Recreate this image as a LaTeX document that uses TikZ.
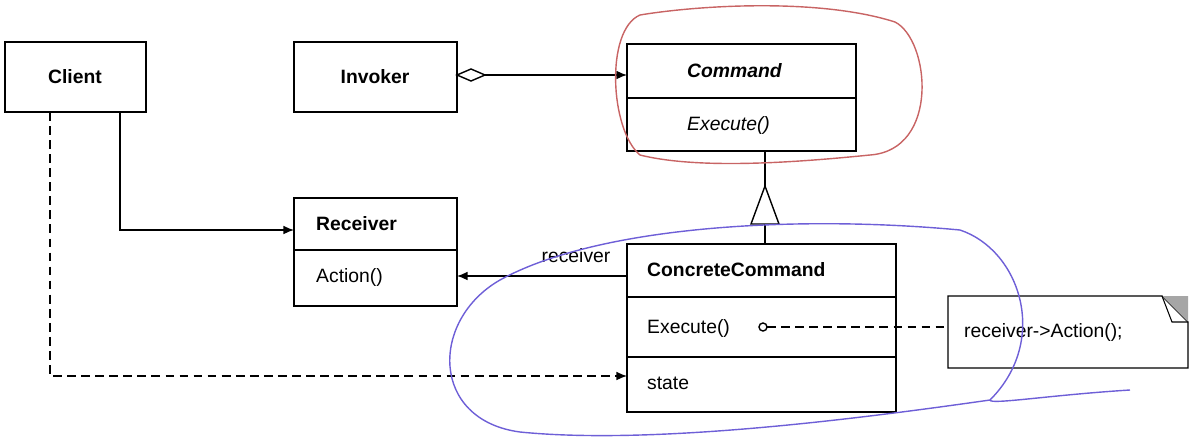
\documentclass[tikz,border=0pt]{standalone}
\usepackage{fontspec}
\setmainfont{Liberation Sans}
\usetikzlibrary{arrows.meta}
\definecolor{markred}{RGB}{200,100,100}
\definecolor{markblue}{RGB}{110,95,215}
\begin{document}
\begin{tikzpicture}[x=0.02cm,y=-0.02cm,font=\fontsize{11}{13}\selectfont,
  tip/.style={-{Latex[length=6pt,width=5pt]},line width=0.8pt},
  dashline/.style={dash pattern=on 5pt off 3pt,line width=0.8pt}]
\useasboundingbox (0,0) rectangle (1191,440);
% classes
\draw[line width=0.8pt] (5,42) rectangle (146,112);
\node (client) at (75,77) {\textbf{Client}};
\draw[line width=0.8pt] (294,42) rectangle (457,112);
\node (invoker) at (375,77) {\textbf{Invoker}};
\draw[line width=0.8pt] (627,44) rectangle (856,151) (627,98) -- (856,98);
\node[anchor=west] (command) at (681,71) {\textbf{\itshape Command}};
\node[anchor=west] at (681,125) {\itshape Execute()};
\draw[line width=0.8pt] (294,198) rectangle (457,306) (294,250) -- (457,250);
\node[anchor=west] (receiver) at (310,224) {\textbf{Receiver}};
\node[anchor=west] at (310,277) {Action()};
\draw[line width=0.8pt] (627,244) rectangle (896,412) (627,297) -- (896,297) (627,357) -- (896,357);
\node[anchor=west] (concrete) at (641,270) {\textbf{ConcreteCommand}};
\node[anchor=west] (execute) at (641,328) {Execute()};
\node[anchor=west] (state) at (641,383) {state};
% note
\draw[line width=0.8pt] (948,296) -- (1162,296) -- (1188,322) -- (1188,368) -- (948,368) -- cycle;
\fill[gray!70] (1162,296) -- (1188,296) -- (1188,322) -- cycle;
\draw[line width=0.6pt] (1162,296) -- (1172,322) -- (1188,322);
\node[anchor=west] (note) at (958,332) {receiver->Action();};
% connectors
\draw[tip] (457,75) -- (627,75);
\draw[fill=white,line width=0.8pt] (457,75) -- (471,69) -- (485,75) -- (471,81) -- cycle;
\draw[tip] (120,112) |- (294,230);
\draw[dashline,-{Latex[length=6pt,width=5pt]}] (50,112) |- (627,376);
\draw[tip] (627,276) -- (457,276);
\node at (576,256) {receiver};
\draw[line width=0.8pt] (765,151) -- (765,186) (765,224) -- (765,244);
\draw[line width=0.8pt,fill=white] (765,186) -- (779,224) -- (751,224) -- cycle;
\draw[line width=0.8pt] (763,327) circle (4);
\draw[dashline] (767,327) -- (948,327);
% hand marks
\draw[markred,line width=0.8pt] (870,155) .. controls (940,150) and (930,40) .. (895,22)
  .. controls (820,-2) and (700,5) .. (640,15) .. controls (605,30) and (610,130) .. (640,155)
  .. controls (700,170) and (800,162) .. (870,155);
\draw[markblue,line width=0.8pt] (1130,390) .. controls (1050,395) and (990,405) .. (990,400)
  .. controls (1050,340) and (1020,250) .. (960,230) .. controls (800,215) and (600,225) .. (500,280)
  .. controls (430,320) and (430,420) .. (520,432) .. controls (650,445) and (850,420) .. (990,400);
\end{tikzpicture}
\end{document}
